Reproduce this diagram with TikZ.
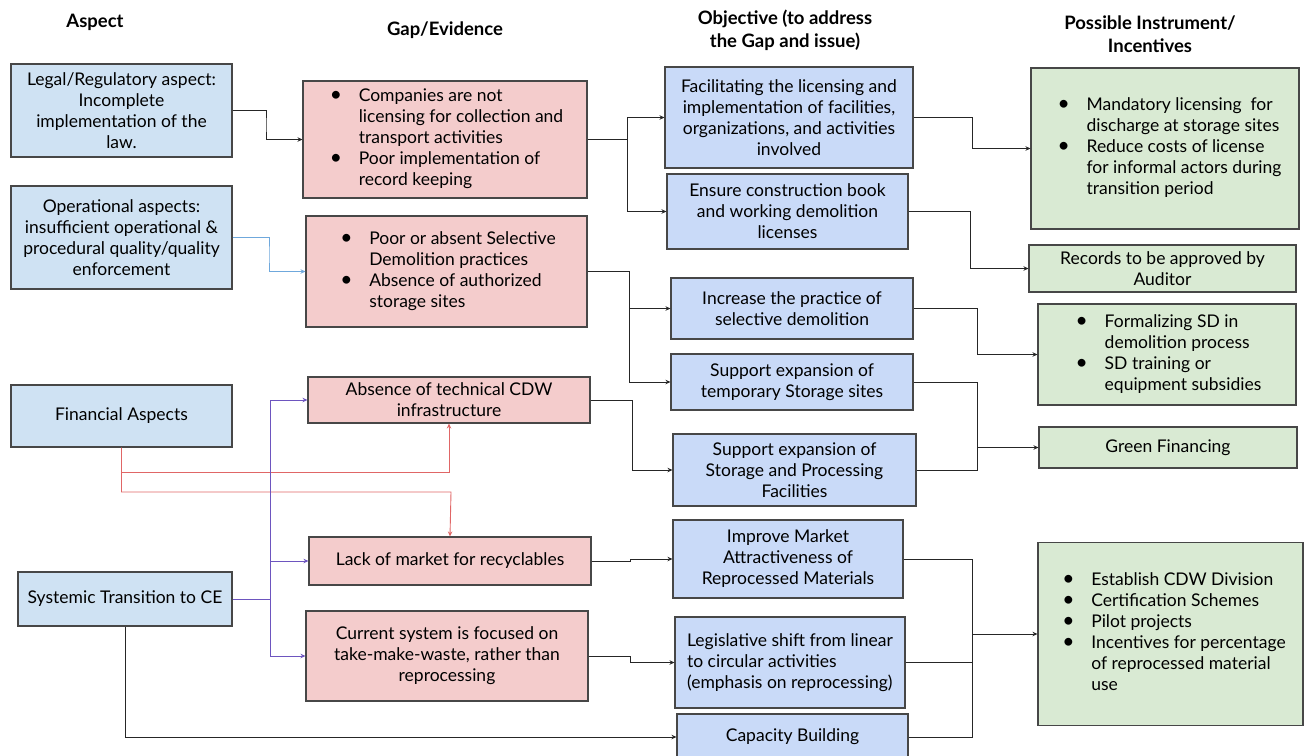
\documentclass[tikz,border=0pt]{standalone}
\usepackage{fontspec}
\setmainfont{Lato}
\usetikzlibrary{arrows.meta}
\definecolor{aspectfill}{HTML}{CFE2F3}
\definecolor{gapfill}{HTML}{F4CCCC}
\definecolor{objfill}{HTML}{C9DAF8}
\definecolor{instfill}{HTML}{D9EAD3}
\definecolor{redline}{HTML}{E06666}
\definecolor{purpleline}{HTML}{6D55BF}
\definecolor{blueline}{HTML}{6FA8DC}
\def\bul{\hspace*{3pt}\scalebox{1.2}{\textbullet}}
\tikzset{
  box/.style={draw=black!72, line width=1.1pt, inner sep=2pt, align=center,
    font=\fontsize{17.5}{21}\selectfont},
  aspectbox/.style={box, fill=aspectfill},
  gapbox/.style={box, fill=gapfill},
  objbox/.style={box, fill=objfill},
  instbox/.style={box, fill=instfill},
  head/.style={align=center, font=\fontsize{18.5}{23}\selectfont\bfseries},
  link/.style={line width=0.9pt, black!85},
  tip/.style={-{Stealth[length=5pt,width=4.5pt]}},
}
\begin{document}
\begin{tikzpicture}[x=1pt,y=-1pt]
			%%%%% START %%%%%
			\useasboundingbox (0,0) rectangle (1305,755);
			
			% column heads
			\node[head] (hA) at (95,22) {Aspect};
			\node[head] (hG) at (445,30) {Gap/Evidence};
			\node[head] (hO) at (785,30) {Objective (to address\\the Gap and issue)};
			\node[head] (hI) at (1150,34) {Possible Instrument/\\Incentives};
			
			% aspects
			\node[aspectbox, minimum width=221, minimum height=93] (A1) at (121.5,110.5) {Legal/Regulatory aspect:\\Incomplete\\implementation of the\\law.};
			\node[aspectbox, minimum width=221, minimum height=103] (A2) at (121.5,237.5) {Operational aspects:\\insufficient operational \&\\procedural quality/quality\\enforcement};
			\node[aspectbox, minimum width=221, minimum height=62] (A3) at (121.5,416) {Financial Aspects};
			\node[aspectbox, minimum width=214, minimum height=54] (A4) at (125,599) {Systemic Transition to CE};
			
			% gaps
			\node[gapbox, minimum width=284, minimum height=117] (G1) at (445,139.5) {\begin{tabular}{@{}p{32pt}@{}l@{}}
				\bul & Companies are not\\ & licensing for collection and\\ & transport activities\\
				\bul & Poor implementation of\\ & record keeping\end{tabular}};
			\node[gapbox, minimum width=281, minimum height=111] (G2) at (446.5,271.5) {\begin{tabular}{@{}p{32pt}@{}l@{}}
				\bul & Poor or absent Selective\\ & Demolition practices\\
				\bul & Absence of authorized\\ & storage sites\end{tabular}};
			\node[gapbox, minimum width=282, minimum height=46] (G3) at (449,400) {Absence of technical CDW\\infrastructure};
			\node[gapbox, minimum width=282, minimum height=48] (G4) at (450,561) {Lack of market for recyclables};
			\node[gapbox, minimum width=282, minimum height=90] (G5) at (447,656) {Current system is focused on\\take-make-waste, rather than\\reprocessing};
			
			% objectives
			\node[objbox, minimum width=248, minimum height=101] (O1) at (789,117.5) {Facilitating the licensing and\\implementation of facilities,\\organizations, and activities\\involved};
			\node[objbox, minimum width=241, minimum height=75] (O2) at (787.5,211.5) {Ensure construction book\\and working demolition\\licenses};
			\node[objbox, minimum width=242, minimum height=61] (O3) at (792,308.5) {Increase the practice of\\selective demolition};
			\node[objbox, minimum width=242, minimum height=56] (O4) at (792,382) {Support expansion of\\temporary Storage sites};
			\node[objbox, minimum width=243, minimum height=72] (O5) at (794.5,470) {Support expansion of\\Storage and Processing\\Facilities};
			\node[objbox, minimum width=230, minimum height=78] (O6) at (788,559) {Improve Market\\Attractiveness of\\Reprocessed Materials};
			\node[objbox, minimum width=230, minimum height=91, align=left] (O7) at (790,662.5) {Legislative shift from linear\\to circular activities\\(emphasis on reprocessing)};
			\node[objbox, minimum width=231, minimum height=46] (O8) at (792.5,737) {Capacity Building};
			
			% instruments
			\node[instbox, minimum width=268, minimum height=161] (I1) at (1165,148.5) {\hspace*{6pt}\begin{tabular}{@{}p{32pt}@{}l@{}}
				\bul & Mandatory licensing~ for\\ & discharge at storage sites\\
				\bul & Reduce costs of license\\ & for informal actors during\\ & transition period\end{tabular}};
			\node[instbox, minimum width=267, minimum height=47] (I2) at (1162.5,268.5) {Records to be approved by\\Auditor};
			\node[instbox, minimum width=258, minimum height=101] (I3) at (1167,354.5) {\begin{tabular}{@{}p{32pt}@{}l@{}}
				\bul & Formalizing SD in\\ & demolition process\\
				\bul & SD training or\\ & equipment subsidies\end{tabular}};
			\node[instbox, minimum width=258, minimum height=41] (I4) at (1168,447.5) {Green Financing};
			\node[instbox, minimum width=265, minimum height=183] (I5) at (1170.5,634) {\hspace*{4pt}\begin{tabular}{@{}p{32pt}@{}l@{}}
				\bul & Establish CDW Division\\ \bul & Certification Schemes\\ \bul & Pilot projects\\
				\bul & Incentives for percentage\\ & of reprocessed material\\ & use\end{tabular}};
			
			% aspects -> gaps
			\draw[link, tip] (A1.east) -| (266,125) |- (G1.west);
			\draw[line width=0.9pt, blueline, tip] (A2.east) -| (269,255) |- (G2.west);
			\coordinate (r1) at (449,472);
			\coordinate (r2) at (451,492);
			\draw[line width=0.9pt, redline, tip] (A3.south) |- (r1) -- (G3.south);
			\draw[line width=0.9pt, redline, tip] (A3.south) |- (r2) -- (G4.north);
			\coordinate (p1) at (270,599);
			\draw[line width=0.9pt, purpleline, tip] (A4.east) -- (p1) |- (G3.west);
			\draw[line width=0.9pt, purpleline, tip] (p1) |- (G4.west);
			\draw[line width=0.9pt, purpleline, tip] (p1) |- (G5.west);
			\draw[link, tip] (A4.south) |- (O8.west);
			
			% gaps -> objectives
			\coordinate (g1) at (627,139.5);
			\draw[link, tip] (G1.east) -- (g1) |- (O1.west);
			\draw[link, tip] (g1) |- (O2.west);
			\coordinate (g2) at (629,271.5);
			\draw[link, tip] (G2.east) -- (g2) |- (O3.west);
			\draw[link, tip] (g2) |- (O4.west);
			\draw[link, tip] (G3.east) -| (632,430) |- (O5.west);
			\draw[link, tip] (G4.east) -| (630,560) |- (O6.west);
			\draw[link, tip] (G5.east) -| (630,660) |- (O7.west);
			
			% objectives -> instruments
			\draw[link, tip] (O1.east) -| (972,130) |- (I1.west);
			\draw[link, tip] (O2.east) -| (970,240) |- (I2.west);
			\draw[link, tip] (O3.east) -| (977,330) |- (I3.west);
			\coordinate (m4) at (977,447.5);
			\draw[link] (O4.east) -| (m4);
			\draw[link] (O5.east) -| (m4);
			\draw[link, tip] (m4) -- (I4.west);
			\coordinate (m5) at (972,634);
			\draw[link] (O6.east) -| (m5);
			\draw[link] (O7.east) -| (m5);
			\draw[link] (O8.east) -| (m5);
			\draw[link, tip] (m5) -- (I5.west);
			%%%%% END %%%%%
\end{tikzpicture}
\end{document}
